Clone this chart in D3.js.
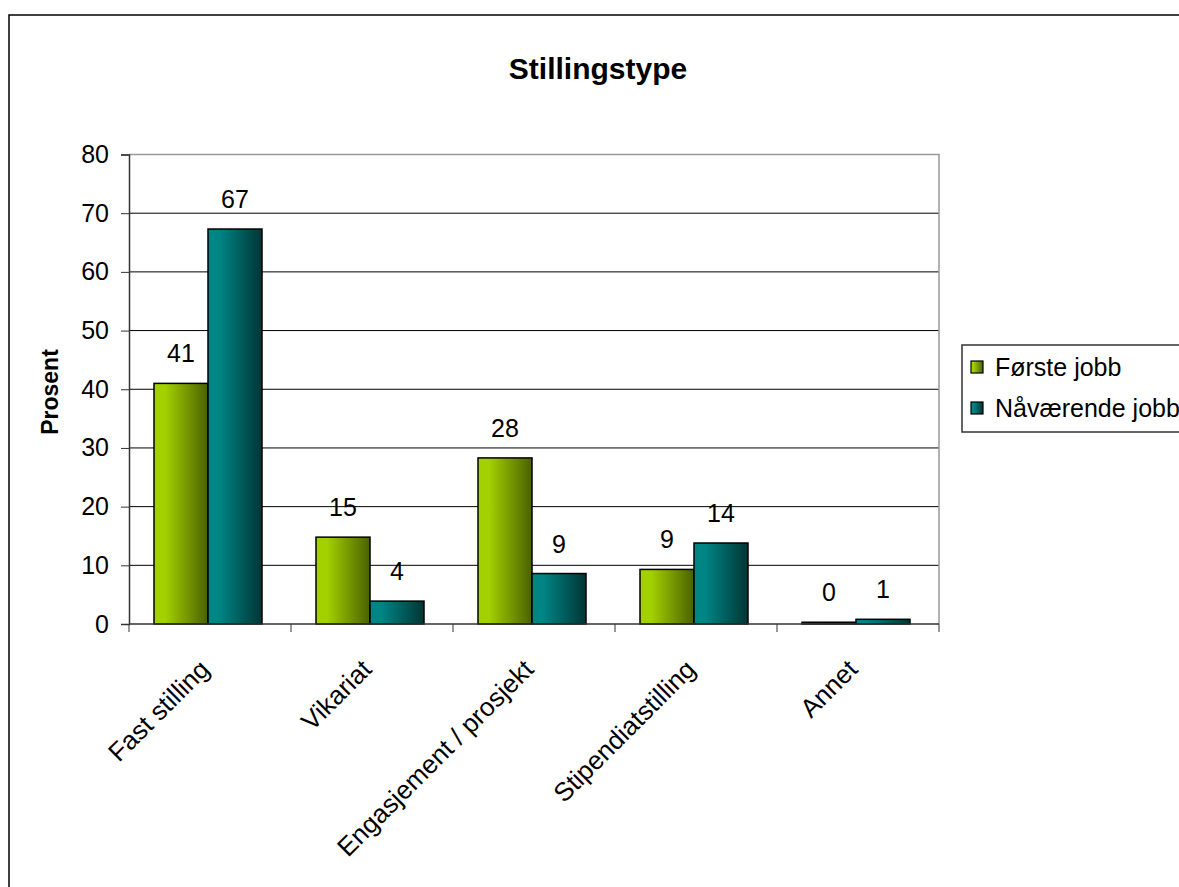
<!DOCTYPE html>
<html>
<head>
<meta charset="utf-8">
<script src="https://cdn.jsdelivr.net/npm/d3@7"></script>
<style>
    body { margin: 0; background: #fff; }
    svg { display: block; font-family: Arial, "Liberation Sans", sans-serif; }
</style>
</head>
<body>
<svg width="1179" height="887"></svg>
<script>
// kategorier og verdier (prosent)
let categories = ["Fast stilling", "Vikariat", "Engasjement / prosjekt", "Stipendiatstilling", "Annet"];
let seriesNames = ["Første jobb", "Nåværende jobb"];
let forsteJobb = [41, 14.8, 28.3, 9.3, 0.3];
let naavaerendeJobb = [67.3, 3.9, 8.6, 13.8, 0.8];
let yTicks = [0, 10, 20, 30, 40, 50, 60, 70, 80];

let svg = d3.select("svg");
let plot = {left: 129, top: 154.5, right: 939, bottom: 624};
let fontSize = "25px";

// gradienter for søylene
let defs = svg.append("defs");
let gradients = [
    {id: "gGreen", light: "#a3d100", dark: "#4a6100"},
    {id: "gTeal", light: "#008585", dark: "#003535"}
];
gradients.forEach(g => {
    let lg = defs.append("linearGradient").attr("id", g.id)
        .attr("x1", "0%").attr("x2", "100%").attr("y1", "0%").attr("y2", "0%");
    lg.append("stop").attr("offset", "0%").attr("stop-color", g.light);
    lg.append("stop").attr("offset", "20%").attr("stop-color", g.light);
    lg.append("stop").attr("offset", "100%").attr("stop-color", g.dark);
});

//ytre ramme
svg.append("rect")
    .attr("x", 9).attr("y", 15).attr("width", 1200).attr("height", 900)
    .attr("fill", "none").attr("stroke", "#000").attr("stroke-width", 1.5);

// skalaer
let x0 = d3.scaleBand().domain(categories).range([plot.left, plot.right]).paddingInner(0).paddingOuter(0);
let x1 = d3.scaleBand().domain(seriesNames).range([25, 25 + 108]);
let y = d3.scaleLinear().domain([0, 80]).range([plot.bottom, plot.top]);

// rutenett
svg.append("g").selectAll("line")
    .data(yTicks.filter(d => d > 0 && d < 80))
    .enter().append("line")
    .attr("x1", plot.left).attr("x2", plot.right)
    .attr("y1", d => y(d)).attr("y2", d => y(d))
    .attr("stroke", "#000").attr("stroke-width", 1);

// plotramme (topp og høyre grå)
svg.append("path")
    .attr("d", `M${plot.left},${plot.top}H${plot.right}V${plot.bottom}`)
    .attr("fill", "none").attr("stroke", "#999").attr("stroke-width", 1.5);

// søyler
let rows = categories.map((c, i) => ({cat: c, vals: [forsteJobb[i], naavaerendeJobb[i]]}));
let group = svg.append("g").selectAll("g")
    .data(rows).enter().append("g")
    .attr("transform", d => `translate(${x0(d.cat)},0)`);

group.selectAll("rect")
    .data(d => d.vals.map((v, k) => ({name: seriesNames[k], v: v, k: k})))
    .enter().append("rect")
    .attr("x", d => x1(d.name))
    .attr("y", d => y(d.v))
    .attr("width", x1.bandwidth())
    .attr("height", d => y(0) - y(d.v))
    .attr("fill", d => d.k === 0 ? "url(#gGreen)" : "url(#gTeal)")
    .attr("stroke", "#000").attr("stroke-width", 1.5);

// dataetiketter
group.selectAll("text")
    .data(d => d.vals.map((v, k) => ({name: seriesNames[k], v: v})))
    .enter().append("text")
    .attr("x", d => x1(d.name) + x1.bandwidth() / 2)
    .attr("y", d => y(d.v) - 21)
    .attr("text-anchor", "middle")
    .style("font-size", fontSize)
    .text(d => d3.format(".0f")(d.v));

// y-akse
let yAxis = svg.append("g")
    .attr("transform", `translate(${plot.left},0)`)
    .call(d3.axisLeft(y).tickValues(yTicks).tickSize(8).tickPadding(12));
yAxis.select(".domain").attr("stroke", "#333").attr("stroke-width", 1.5);
yAxis.selectAll(".tick line").attr("stroke", "#333");
yAxis.selectAll("text").style("font-size", fontSize).attr("fill", "#000")
    .style("font-family", "Arial, 'Liberation Sans', sans-serif");

// x-akse
svg.append("line")
    .attr("x1", plot.left).attr("x2", plot.right)
    .attr("y1", plot.bottom).attr("y2", plot.bottom)
    .attr("stroke", "#333").attr("stroke-width", 1.5);
let bounds = categories.map(c => x0(c)).concat([plot.right]);
svg.append("g").selectAll("line")
    .data(bounds).enter().append("line")
    .attr("x1", d => d).attr("x2", d => d)
    .attr("y1", plot.bottom).attr("y2", plot.bottom + 8)
    .attr("stroke", "#333").attr("stroke-width", 1);

svg.append("g").selectAll("text")
    .data(categories).enter().append("text")
    .attr("transform", d => `translate(${x0(d) + x0.bandwidth() / 2 + 1},671) rotate(-45)`)
    .attr("text-anchor", "end")
    .style("font-size", "26px")
    .text(d => d);

// tittel
svg.append("text")
    .attr("x", 598).attr("y", 79)
    .attr("text-anchor", "middle")
    .style("font-size", "30px").style("font-weight", "bold")
    .text("Stillingstype");

// y-aksetittel
svg.append("text")
    .attr("transform", "translate(58,392) rotate(-90)")
    .attr("text-anchor", "middle")
    .style("font-size", "23px").style("font-weight", "bold")
    .text("Prosent");

// forklaring
let legend = svg.append("g");
legend.append("rect")
    .attr("x", 962).attr("y", 345).attr("width", 260).attr("height", 87)
    .attr("fill", "#fff").attr("stroke", "#333").attr("stroke-width", 1.5);
let items = legend.selectAll("g")
    .data(seriesNames).enter().append("g")
    .attr("transform", (d, i) => `translate(971,${367 + i * 41})`);
items.append("rect")
    .attr("x", 0).attr("y", -6).attr("width", 12).attr("height", 12)
    .attr("fill", (d, i) => i === 0 ? "url(#gGreen)" : "url(#gTeal)")
    .attr("stroke", "#000").attr("stroke-width", 1.2);
items.append("text")
    .attr("x", 24).attr("y", 9)
    .style("font-size", fontSize)
    .text(d => d);
</script>
</body>
</html>
